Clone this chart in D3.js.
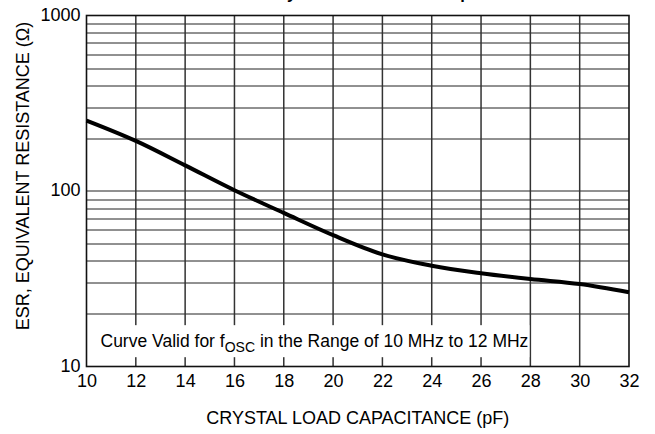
<!DOCTYPE html>
<meta charset="utf-8">
<style>
    body {
        margin: 0;
        background-color: #ffffff;
    }

    svg text {
        font-family: "Liberation Sans", Arial, sans-serif;
        fill: #000;
    }

    .tick text {
        font-size: 18px;
    }

    .axis-title {
        font-size: 18px;
    }
</style>

<body>
    <svg width="655" height="434"></svg>
    <script src="https://d3js.org/d3.v7.min.js"></script>
    <script>
        // crystal load capacitance (pF) vs ESR (ohm)
        var capacitance = [10, 12, 14, 16, 18, 20, 22, 24, 26, 28, 30, 32];
        var esr = [252, 193, 140, 101, 75, 56, 43.5, 37.5, 34, 31.5, 29.5, 26.5];
        var xTicks = [10, 12, 14, 16, 18, 20, 22, 24, 26, 28, 30, 32];
        var yTicks = [10, 100, 1000];
        var yGrid = [20, 30, 40, 50, 60, 70, 80, 90, 100, 200, 300, 400, 500, 600, 700, 800, 900];

        var svg = d3.select("svg"),
            margin = {
                top: 15.5,
                right: 26,
                bottom: 67.5,
                left: 86.5
            },
            width = +svg.attr("width") - margin.left - margin.right,
            height = +svg.attr("height") - margin.top - margin.bottom;

        var x = d3.scaleLinear().domain([10, 32]).range([0, width]);
        var y = d3.scaleLog().domain([10, 1000]).range([height, 0]);

        var g = svg.append("g")
            .attr("transform", "translate(" + margin.left + "," + margin.top + ")");

        // horizontal grid
        g.append("path")
            .attr("fill", "none")
            .attr("stroke", "#222")
            .attr("stroke-width", 1)
            .attr("d", yGrid.map(function(d) {
                var yy = Math.round(y(d)) + 0.5;
                return "M0," + yy + "H" + width;
            }).join(""));

        // vertical grid
        g.append("path")
            .attr("fill", "none")
            .attr("stroke", "#333")
            .attr("stroke-width", 1.5)
            .attr("d", xTicks.slice(1, -1).map(function(d) {
                return "M" + x(d) + ",0V" + height;
            }).join(""));

        // note box covers the grid at the bottom
        var note = g.append("g");
        note.append("rect")
            .attr("x", 1)
            .attr("y", y(17.2))
            .attr("width", x(28) - 2)
            .attr("height", y(11.3) - y(17.2))
            .attr("fill", "#fff");
        var noteText = note.append("text")
            .attr("x", 14)
            .attr("y", y(11.3) - 10)
            .style("font-size", "17.5px");
        noteText.append("tspan").text("Curve Valid for f");
        noteText.append("tspan").attr("dy", 5).style("font-size", "14px").text("OSC");
        noteText.append("tspan").attr("dy", -5).text(" in the Range of 10 MHz to 12 MHz");

        // frame
        g.append("rect")
            .attr("width", width)
            .attr("height", height)
            .attr("fill", "none")
            .attr("stroke", "#111")
            .attr("stroke-width", 1.6);

        // axes (labels only)
        var xAxis = g.append("g")
            .attr("transform", "translate(0," + height + ")")
            .call(d3.axisBottom(x).tickValues(xTicks).tickSize(0).tickPadding(8).tickFormat(d3.format("d")));
        xAxis.select(".domain").remove();

        var yAxis = g.append("g")
            .call(d3.axisLeft(y).tickValues(yTicks).tickSize(0).tickPadding(6).tickFormat(d3.format("d")));
        yAxis.select(".domain").remove();
        yAxis.selectAll(".tick text").attr("dy", "0.25em");

        // curve
        var line = d3.line()
            .x(function(d, i) { return x(capacitance[i]); })
            .y(function(d) { return y(d); })
            .curve(d3.curveMonotoneX);

        g.append("path")
            .datum(esr)
            .attr("fill", "none")
            .attr("stroke", "#000")
            .attr("stroke-width", 4)
            .attr("d", line);

        // axis titles
        svg.append("text")
            .attr("class", "axis-title")
            .attr("x", margin.left + width / 2)
            .attr("y", 424)
            .attr("text-anchor", "middle")
            .text("CRYSTAL LOAD CAPACITANCE (pF)");

        svg.append("text")
            .attr("class", "axis-title")
            .attr("transform", "translate(29," + (margin.top + height / 2 - 15) + ") rotate(-90)")
            .attr("text-anchor", "middle")
            .text("ESR, EQUIVALENT RESISTANCE (\u03A9)");

        // title, mostly cut off by the top edge
        var title = svg.append("text")
            .attr("y", -1)
            .style("font-size", "16.5px")
            .style("font-weight", "bold")
            .text("Crystal ESR vs. Load Capacitance");
        var offset = title.node().getSubStringLength(0, 2);
        title.attr("x", 287 - offset);
    </script>
</body>
